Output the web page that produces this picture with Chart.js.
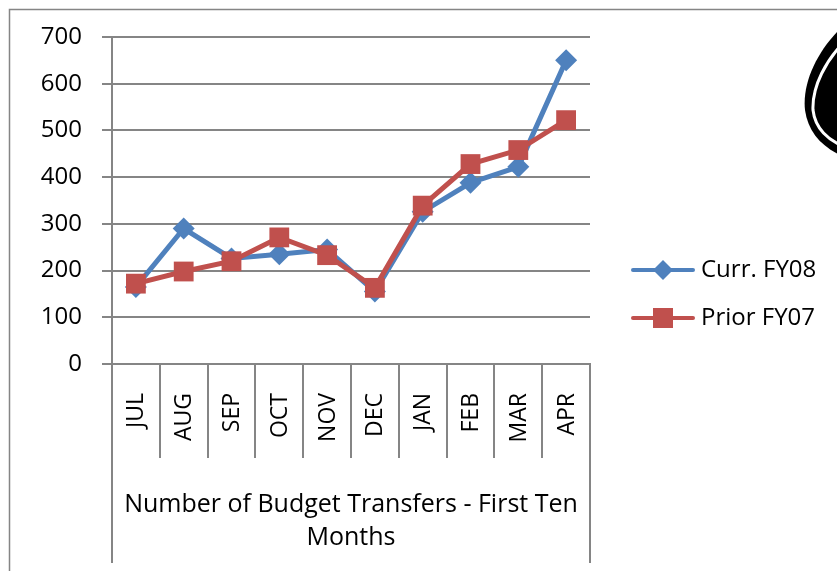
<!DOCTYPE html>
<html>
<head>
<meta charset="utf-8">
<script src="https://cdn.jsdelivr.net/npm/chart.js@4.4.1/dist/chart.umd.min.js"></script>
<style>
html,body{margin:0;padding:0;background:#fff;}
#wrap{width:837px;height:571px;}
</style>
</head>
<body>
<div id="wrap"><canvas id="c" width="837" height="571"></canvas></div>
<script>
const months = ['JUL','AUG','SEP','OCT','NOV','DEC','JAN','FEB','MAR','APR'];
const currFY08 = [165, 290, 226, 235, 245, 155, 326, 388, 422, 650];
const priorFY07 = [172, 198, 220, 271, 233, 163, 339, 428, 458, 522];
const seriesNames = ['Curr. FY08', 'Prior FY07'];
const yTicks = [0, 100, 200, 300, 400, 500, 600, 700];
const axisTitle = ['Number of Budget Transfers - First Ten', 'Months'];

const FONT = "'Open Sans', 'DejaVu Sans', sans-serif";
const GRID = '#858585';
const BLUE = '#4F81BD';
const RED = '#C0504D';

const decor = {
  id: 'decor',
  beforeDraw(chart) {
    const ctx = chart.ctx;
    ctx.save();
    ctx.strokeStyle = GRID;
    ctx.lineWidth = 1.5;
    ctx.strokeRect(9.5, 9.5, 900, 700);
    // decorative shape at top right
    ctx.fillStyle = '#000';
    ctx.beginPath();
    ctx.moveTo(842, 27);
    ctx.bezierCurveTo(818, 50, 802, 82, 805, 110);
    ctx.bezierCurveTo(808, 132, 822, 148, 845, 157);
    ctx.lineTo(845, 27);
    ctx.closePath();
    ctx.fill();
    ctx.strokeStyle = '#fff';
    ctx.lineWidth = 3;
    ctx.beginPath();
    ctx.moveTo(846, 40);
    ctx.bezierCurveTo(826, 60, 812, 86, 813, 110);
    ctx.bezierCurveTo(815, 128, 828, 141, 846, 147);
    ctx.stroke();
    ctx.restore();
  },
  afterDraw(chart) {
    const ctx = chart.ctx;
    const xs = chart.scales.x;
    const tl = xs.options.grid.tickLength;
    ctx.save();
    ctx.strokeStyle = GRID;
    ctx.lineWidth = 2;
    [xs.left, xs.right].forEach(px => {
      const x = Math.round(px);
      ctx.beginPath();
      ctx.moveTo(x, xs.top + tl - 1);
      ctx.lineTo(x, 563);
      ctx.stroke();
    });
    // legend
    const lx = 633, ly0 = 270, dy = 48;
    chart.data.datasets.forEach((ds, i) => {
      const y = ly0 + i * dy;
      ctx.strokeStyle = ds.borderColor;
      ctx.lineWidth = 4;
      ctx.lineCap = 'round';
      ctx.beginPath();
      ctx.moveTo(lx, y);
      ctx.lineTo(lx + 60, y);
      ctx.stroke();
      ctx.fillStyle = ds.backgroundColor;
      const cx = lx + 30;
      ctx.beginPath();
      if (ds.pointStyle === 'rectRot') {
        const r = 10;
        ctx.moveTo(cx, y - r); ctx.lineTo(cx + r, y); ctx.lineTo(cx, y + r); ctx.lineTo(cx - r, y);
      } else {
        const h = 10;
        ctx.rect(cx - h, y - h, 2 * h, 2 * h);
      }
      ctx.closePath();
      ctx.fill();
      ctx.fillStyle = '#000';
      ctx.font = '24px ' + FONT;
      ctx.textAlign = 'left';
      ctx.textBaseline = 'middle';
      ctx.fillText(ds.label, lx + 68, y);
    });
    ctx.restore();
  }
};

new Chart(document.getElementById('c'), {
  type: 'line',
  data: {
    labels: months,
    datasets: [
      {
        label: seriesNames[0], data: currFY08,
        borderColor: BLUE, backgroundColor: BLUE, borderWidth: 5,
        pointStyle: 'rectRot', pointRadius: 11, pointBorderWidth: 0,
        pointBackgroundColor: BLUE, tension: 0, order: 1
      },
      {
        label: seriesNames[1], data: priorFY07,
        borderColor: RED, backgroundColor: RED, borderWidth: 5,
        pointStyle: 'rect', pointRadius: 14, pointBorderWidth: 0,
        pointBackgroundColor: RED, tension: 0, order: 0
      }
    ]
  },
  options: {
    responsive: false,
    animation: false,
    devicePixelRatio: 1,
    layout: { padding: { left: 0, right: 247, top: 37, bottom: 0 } },
    plugins: { legend: { display: false }, tooltip: { enabled: false } },
    scales: {
      x: {
        type: 'category',
        offset: true,
        grid: { offset: true, drawOnChartArea: false, drawTicks: true, tickLength: 94, color: GRID, lineWidth: 2 },
        border: { display: true, color: GRID, width: 2 },
        ticks: {
          minRotation: 90, maxRotation: 90, autoSkip: false, padding: -65, labelOffset: 1,
          color: '#000', font: { family: FONT, size: 23 }
        },
        title: {
          display: true, text: axisTitle, color: '#000',
          font: { family: FONT, size: 25, lineHeight: 1.3 },
          padding: { top: 0, bottom: 17 }
        },
        afterFit(scale) { scale.height = 207; }
      },
      y: {
        min: 0, max: 700,
        afterBuildTicks(scale) { scale.ticks = yTicks.map(v => ({ value: v })); },
        grid: { color: GRID, lineWidth: 2, tickLength: 10, drawTicks: true },
        border: { display: true, color: GRID, width: 2 },
        ticks: { padding: 20, color: '#000', font: { family: FONT, size: 24 } },
        afterFit(scale) { scale.width = 112; }
      }
    }
  },
  plugins: [decor]
});
</script>
</body>
</html>
